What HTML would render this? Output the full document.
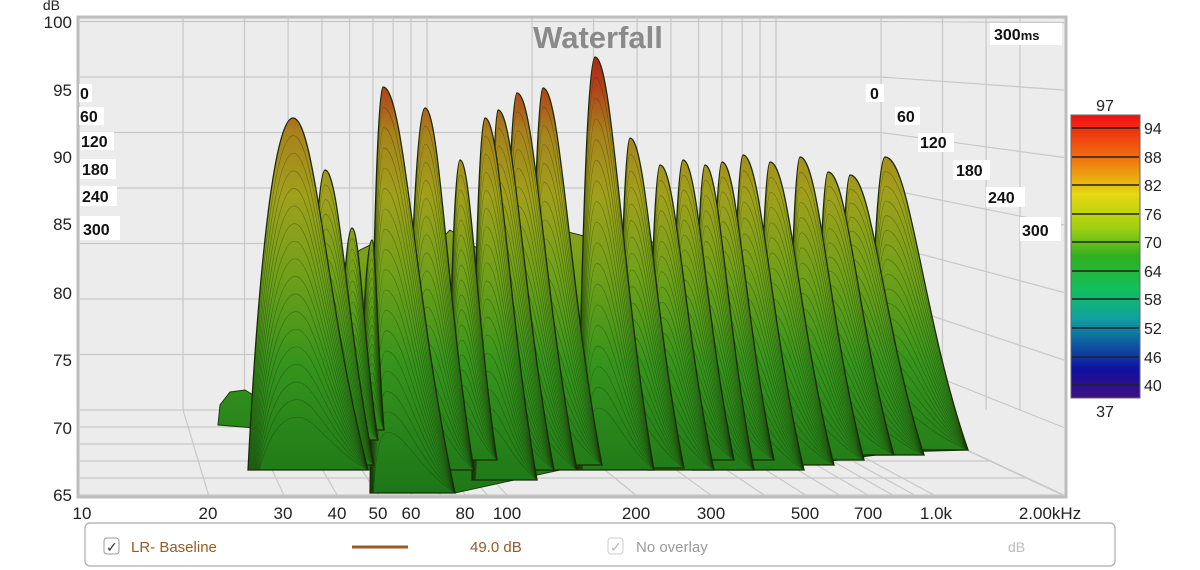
<!DOCTYPE html>
<html><head><meta charset="utf-8"><style>
body{margin:0;width:1200px;height:570px;background:#fff;overflow:hidden;font-family:"Liberation Sans",sans-serif}
svg{position:absolute;left:0;top:0}
</style></head><body>
<svg id="s" width="1200" height="570" viewBox="0 0 1200 570" xmlns="http://www.w3.org/2000/svg">
<defs>
<linearGradient id="surf" gradientUnits="userSpaceOnUse" x1="0" y1="55" x2="0" y2="495">
<stop offset="0" stop-color="#b0221a"/>
<stop offset="0.08" stop-color="#b0461a"/>
<stop offset="0.18" stop-color="#a8841c"/>
<stop offset="0.32" stop-color="#a0a01c"/>
<stop offset="0.5" stop-color="#70a01a"/>
<stop offset="0.7" stop-color="#36941c"/>
<stop offset="1" stop-color="#1c7618"/>
</linearGradient>
<linearGradient id="cb" x1="0" y1="0" x2="0" y2="1">
<stop offset="0" stop-color="#f01010"/>
<stop offset="0.15" stop-color="#f07010"/>
<stop offset="0.28" stop-color="#e8d810"/>
<stop offset="0.4" stop-color="#a0d010"/>
<stop offset="0.5" stop-color="#30b020"/>
<stop offset="0.62" stop-color="#10c060"/>
<stop offset="0.72" stop-color="#10a0a0"/>
<stop offset="0.82" stop-color="#1050a0"/>
<stop offset="0.9" stop-color="#1010a0"/>
<stop offset="1" stop-color="#401080"/>
</linearGradient>
</defs>
<rect x="78" y="17" width="988" height="480" fill="#ececec" stroke="#bdbdbd" stroke-width="3"/>
<g id="grid" stroke="#c8c8c8" stroke-width="1.2" fill="none"></g>
<g id="ridges"></g>
<text x="598" y="48" font-size="31" font-weight="bold" fill="#8a8a8a" text-anchor="middle">Waterfall</text>
<g font-size="16" font-weight="bold" fill="#111">
<rect x="990" y="23" width="72" height="22" fill="#fff"/><text x="994" y="40">300<tspan font-size="13">ms</tspan></text>
<rect x="79" y="84" width="13" height="18" fill="#fff"/><text x="80" y="99">0</text>
<rect x="79" y="107" width="25" height="18" fill="#fff"/><text x="80" y="122">60</text>
<rect x="80" y="132" width="34" height="18" fill="#fff"/><text x="81" y="147">120</text>
<rect x="80" y="159" width="36" height="20" fill="#fff"/><text x="82" y="175">180</text>
<rect x="80" y="186" width="37" height="20" fill="#fff"/><text x="82" y="202">240</text>
<rect x="80" y="216" width="40" height="24" fill="#fff"/><text x="83" y="235">300</text>
<rect x="866" y="84" width="18" height="18" fill="#fff"/><text x="870" y="99">0</text>
<rect x="895" y="107" width="25" height="18" fill="#fff"/><text x="897" y="122">60</text>
<rect x="918" y="133" width="36" height="19" fill="#fff"/><text x="920" y="148">120</text>
<rect x="953" y="160" width="37" height="20" fill="#fff"/><text x="956" y="176">180</text>
<rect x="986" y="187" width="39" height="20" fill="#fff"/><text x="988" y="203">240</text>
<rect x="1020" y="217" width="41" height="24" fill="#fff"/><text x="1022" y="236">300</text>
</g>
<g font-size="17" fill="#222" text-anchor="end">
<text x="60" y="10" font-size="14">dB</text>
<text x="72" y="28">100</text><text x="72" y="96">95</text><text x="72" y="163">90</text><text x="72" y="230">85</text>
<text x="72" y="299">80</text><text x="72" y="366">75</text><text x="72" y="434">70</text><text x="72" y="501">65</text>
</g>
<g font-size="17" fill="#222" text-anchor="middle">
<text x="82" y="519">10</text><text x="208" y="519">20</text><text x="283" y="519">30</text><text x="337" y="519">40</text>
<text x="378" y="519">50</text><text x="411" y="519">60</text><text x="465" y="519">80</text><text x="507" y="519">100</text>
<text x="636" y="519">200</text><text x="711" y="519">300</text><text x="805" y="519">500</text><text x="868" y="519">700</text>
<text x="936" y="519">1.0k</text><text x="1050" y="519">2.00kHz</text>
</g>
<rect x="1071" y="115" width="69" height="283" fill="url(#cb)" stroke="#666"/>
<g stroke="#222" stroke-width="1.5" id="cbt"></g>
<g font-size="16" fill="#222">
<text x="1105" y="111" text-anchor="middle">97</text><text x="1105" y="417" text-anchor="middle">37</text>
<text x="1144" y="134">94</text><text x="1144" y="163">88</text><text x="1144" y="191">82</text><text x="1144" y="220">76</text>
<text x="1144" y="248">70</text><text x="1144" y="277">64</text><text x="1144" y="305">58</text><text x="1144" y="334">52</text>
<text x="1144" y="363">46</text><text x="1144" y="391">40</text>
</g>
<rect x="85" y="523" width="1030" height="43" rx="5" fill="#fff" stroke="#aaa" stroke-width="1.2"/>
<rect x="104" y="538" width="15" height="16" rx="3" fill="#fff" stroke="#999"/>
<text x="106" y="552" font-size="14" fill="#333">✓</text>
<text x="131" y="552" font-size="15" fill="#9a5a25">LR- Baseline</text>
<line x1="352" y1="547" x2="408" y2="547" stroke="#9a5a25" stroke-width="3"/>
<text x="470" y="552" font-size="15" fill="#9a5a25">49.0 dB</text>
<rect x="608" y="538" width="15" height="16" rx="3" fill="#fff" stroke="#ccc"/>
<text x="610" y="552" font-size="14" fill="#bbb">✓</text>
<text x="636" y="552" font-size="15" fill="#999">No overlay</text>
<text x="1008" y="552" font-size="14" fill="#bbb">dB</text>
</svg>
<script>
var NS="http://www.w3.org/2000/svg";
function el(p,t,a){var e=document.createElementNS(NS,t);for(var k in a)e.setAttribute(k,a[k]);p.appendChild(e);return e;}
var g=document.getElementById('grid');
var fs=[20,30,40,50,60,70,80,90,100,200,300,400,500,600,700,800,900,1000,2000,3000,4000,5000];
function xb(f){return 78+349*Math.log10(f/10);} function xf(f){return 80+427*Math.log10(f/10);}
fs.forEach(function(f){var b=xb(f);if(b<1064)el(g,'line',{x1:b,y1:18,x2:b,y2:410});if(f<=2000)el(g,'line',{x1:b,y1:410,x2:xf(f),y2:495});});
for(var d=70;d<=100;d+=5){var yb=410-(d-65)*11.1,yf=495-(d-65)*13.5;el(g,'line',{x1:78,y1:yb,x2:881,y2:yb});el(g,'line',{x1:881,y1:yb,x2:1064,y2:yf});}
for(var t=0;t<=300;t+=60){var y=410+t/300*85;el(g,'line',{x1:78,y1:y,x2:881+t/300*181,y2:y});}
el(g,'line',{x1:881,y1:410,x2:1064,y2:495});
var cbt=document.getElementById('cbt');[128,157,185,214,242,271,299,328,357,385].forEach(function(y){el(cbt,'line',{x1:1072,y1:y,x2:1139,y2:y});});
var R=document.getElementById('ridges');
el(R,'path',{d:"M218,425 L220,405 L230,392 L245,390 L258,398 L270,330 L360,250 L380,240 L420,260 L450,230 L480,250 L560,230 L600,240 L640,240 L700,250 L800,250 L880,240 L968,450 L900,452 L800,465 L720,470 L640,470 L560,470 L455,493 L420,470 L370,470 L300,465 L255,428 Z",fill:"url(#surf)",stroke:"#1a3a0a","stroke-width":1});
var rd=[[293,118,248,368,470],[325,170,308,374,465],[352,228,338,378,440],[372,240,360,384,430],[383,87,370,455,493],[425,108,406,474,470],[460,160,448,497,460],[485,118,472,537,480],[498,110,488,554,470],[517,93,503,577,470],[543,88,530,602,465],[595,57,578,654,470],[630,138,618,684,468],[660,165,648,714,470],[683,160,670,734,460],[705,165,693,754,470],[722,162,710,774,460],[743,155,731,804,470],[770,162,758,834,465],[800,157,788,864,460],[828,172,816,894,455],[850,175,838,924,455],[885,157,868,968,450]];
for(var i=rd.length-1;i>=0;i--){var r=rd[i],px=r[0],py=r[1],lx=r[2],rx=r[3],ty=r[4];
 function shape(s){var P=py+(ty-py)*s,L=lx+(px-lx)*s*0.3,X=px+(rx-px)*s*0.35;
  return "M"+L+","+ty+" C"+(L+0.2*(px-L))+","+(P+0.5*(ty-P))+" "+(px-0.45*(px-L))+","+P+" "+(px+(X-px)*0.2)+","+P+" C"+(px+0.3*(rx-px))+","+P+" "+(px+0.45*(rx-px))+","+(P+0.55*(ty-P))+" "+rx+","+ty+" Z";}
 el(R,'path',{d:shape(0),fill:"url(#surf)",stroke:"#1b2a08","stroke-width":1.3});
 for(var s=0.05;s<0.9;s+=0.05){el(R,'path',{d:shape(s),fill:"none",stroke:"#1b3008","stroke-width":0.7,"stroke-opacity":0.4});}
}
</script>
</body></html>
